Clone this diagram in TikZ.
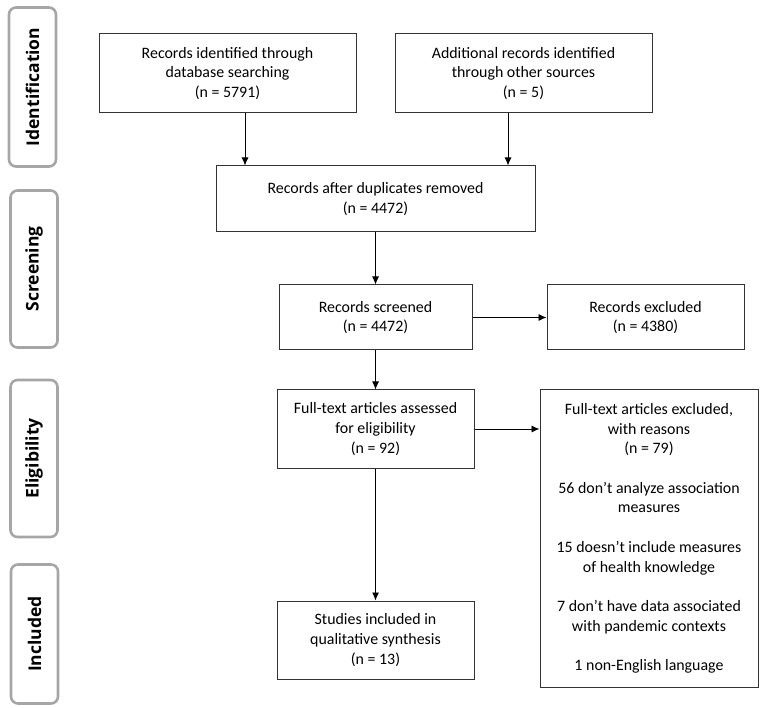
\documentclass[tikz,border=0pt]{standalone}
\usepackage{fontspec}
\setmainfont{Carlito}
\newfontfamily\phasefont{Open Sans}
\usepackage{tikz}
\usetikzlibrary{arrows.meta}
\tikzstyle{box}=[shape=rectangle,draw=black!80,line width=1pt,align=center,inner sep=2pt,
  font=\fontsize{15.9}{19.6}\selectfont]
\tikzstyle{phase}=[shape=rectangle,draw=black!35,line width=2.6pt,rounded corners=7pt,
  minimum width=47pt]
\tikzstyle{phasetext}=[rotate=90,font=\phasefont\bfseries\fontsize{17.5}{20}\selectfont]
\tikzstyle{arr}=[-{Latex[length=8pt,width=7pt]},line width=0.9pt]

\begin{document}
\begin{tikzpicture}[x=1pt,y=-1pt]
        \useasboundingbox (0,0) rectangle (763,708);
        % phase labels
        \node[phase, minimum height=159pt] (pident) at (32.5, 87) {}
        ;
        \node[phase, minimum height=157pt] (pscreen) at (34, 269) {}
        ;
        \node[phase, minimum height=157pt] (pelig) at (34, 458.5) {}
        ;
        \node[phase, minimum height=139pt] (pincl) at (34.5, 634) {}
        ;
        \node[phasetext] at (pident) {Identification};
        \node[phasetext] at (pscreen) {Screening};
        \node[phasetext] at (pelig) {Eligibility};
        \node[phasetext] at (pincl) {Included};
        % flow boxes
        \node[box, minimum width=257pt, minimum height=79pt] (ident) at (227.5, 73.5)
            {Records identified through\\database searching\\(n = 5791)}
        ;
        \node[box, minimum width=257pt, minimum height=79pt] (other) at (523.5, 73.5)
            {Additional records identified\\through other sources\\(n = 5)}
        ;
        \node[box, minimum width=319pt, minimum height=66pt] (dup) at (375.5, 199)
            {Records after duplicates removed\\(n = 4472)}
        ;
        \node[box, minimum width=193pt, minimum height=65pt] (screened) at (375.5, 317.5)
            {Records screened\\(n = 4472)}
        ;
        \node[box, minimum width=197pt, minimum height=65pt] (excl) at (645.5, 317.5)
            {Records excluded\\(n = 4380)}
        ;
        \node[box, minimum width=197pt, minimum height=78pt] (full) at (375.5, 429)
            {Full-text articles assessed\\for eligibility\\(n = 92)}
        ;
        \node[box, minimum width=218pt, minimum height=297pt] (fullexcl) at (649, 538.5)
            {Full-text articles excluded,\\with reasons\\(n = 79)\\[20pt]
             56 don’t analyze association\\measures\\[20pt]
             15 doesn’t include measures\\of health knowledge\\[20pt]
             7 don’t have data associated\\with pandemic contexts\\[20pt]
             1 non-English language}
        ;
        \node[box, minimum width=197pt, minimum height=78pt] (incl) at (375.5, 640)
            {Studies included in\\qualitative synthesis\\(n = 13)}
        ;
        % arrows
        \draw[arr] ([xshift=17.5pt]ident.south) -- ([xshift=17.5pt]ident.south |- dup.north);
        \draw[arr] ([xshift=-15.5pt]other.south) -- ([xshift=-15.5pt]other.south |- dup.north);
        \draw[arr] (dup) -- (screened);
        \draw[arr] (screened) -- (excl);
        \draw[arr] (screened) -- (full);
        \draw[arr] (full.east) -- (full.east -| fullexcl.west);
        \draw[arr] (full) -- (incl);
    \end{tikzpicture}
\end{document}
